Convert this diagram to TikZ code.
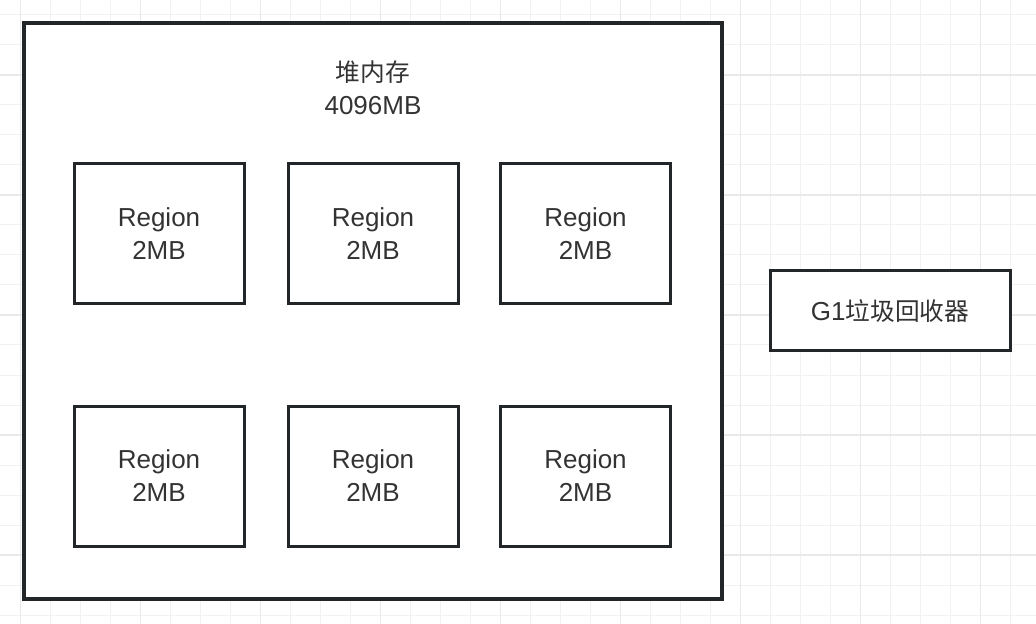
\documentclass[tikz,border=0pt]{standalone}
\usepackage{fontspec}
\setmainfont{Liberation Sans}
\newfontfamily\cjk[Scale=0.95]{Noto Sans CJK SC}
\usepackage{tikz}
\usetikzlibrary{positioning}
\definecolor{HeapInk}{HTML}{222629}
\definecolor{HeapText}{HTML}{333333}
\definecolor{GridMinor}{HTML}{F2F2F2}
\definecolor{GridMajor}{HTML}{E9E9E9}

\begin{document}
\begin{tikzpicture}[x=0.5pt,y=-0.5pt,
  box/.style={draw=HeapInk,fill=white,line width=1.5pt,inner sep=0pt},
  lab/.style={text=HeapText,font=\fontsize{13}{16.5}\selectfont,align=center},
  regionbox/.style={box,lab,minimum width=85pt,minimum height=70pt}]
  \useasboundingbox (0,0) rectangle (1036,624);
  \fill[white] (0,0) rectangle (1036,624);
  % background grid
  \foreach \k in {0,...,33} {
    \draw[GridMinor,line width=0.5pt] (20.7+30*\k,0) -- (20.7+30*\k,624);
  }
  \foreach \k in {0,...,20} {
    \draw[GridMinor,line width=0.5pt] (0,15+30*\k) -- (1036,15+30*\k);
  }
  \foreach \k in {0,...,8} {
    \draw[GridMajor,line width=0.6pt] (20.7+120*\k,0) -- (20.7+120*\k,624);
  }
  \foreach \k in {0,...,4} {
    \draw[GridMajor,line width=0.6pt] (0,75+120*\k) -- (1036,75+120*\k);
  }
  % heap
  \node[box,line width=1.75pt,minimum width=349pt,minimum height=288pt] (heap) at (373,311) {};
  \node[lab] (heaptitle) at (373,88) {{\cjk 堆内存}\\4096MB};
  \foreach \c/\x in {1/159,2/373,3/585.5} {
    \foreach \r/\y in {1/234,2/476} {
      \node[regionbox] (reg\r\c) at (\x,\y) {Region\\2MB};
    }
  }
  % collector
  \node[box,lab,minimum width=120pt,minimum height=40pt] (gc) at (890,311) {G1{\cjk 垃圾回收器}};
\end{tikzpicture}
\end{document}
